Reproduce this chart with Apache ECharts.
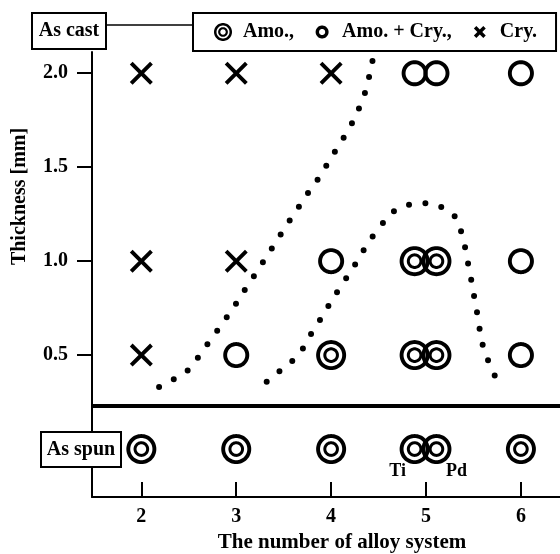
<!DOCTYPE html>
<html><head><meta charset="utf-8">
<script src="https://cdn.jsdelivr.net/npm/echarts@6/dist/echarts.min.js"></script>
<style>html,body{margin:0;padding:0;background:#fff}#c{width:560px;height:554px}</style>
</head><body><div id="c"></div>
<script>
// ---------------- data ----------------
const alloyCount   = [2, 3, 4, 5, 5, 6];
const alloyVariant = ['', '', '', 'Ti', 'Pd', ''];
const countTicks     = [2, 3, 4, 5, 6];
const thicknessTicks = [0.5, 1.0, 1.5, 2.0];
const castThickness  = [2.0, 1.0, 0.5];
const cast20 = ['Cry', 'Cry', 'Cry', 'AmoCry', 'AmoCry', 'AmoCry'];
const cast10 = ['Cry', 'Cry', 'AmoCry', 'Amo', 'Amo', 'AmoCry'];
const cast05 = ['Cry', 'AmoCry', 'Amo', 'Amo', 'Amo', 'AmoCry'];
const asSpun = ['Amo', 'Amo', 'Amo', 'Amo', 'Amo', 'Amo'];
const legendNames = ['Amo.', 'Amo. + Cry.', 'Cry.'];
// boundary between crystalline and mixed region (dotted, left)
const boundaryCry = [[2.187,0.331],[2.355,0.376],[2.513,0.429],[2.629,0.512],[2.759,0.601],[2.875,0.683],
  [2.987,0.766],[3.100,0.855],[3.209,0.938],[3.314,1.020],[3.419,1.103],[3.525,1.187],[3.638,1.272],
  [3.749,1.357],[3.855,1.432],[3.967,1.522],[4.076,1.613],[4.181,1.698],[4.262,1.778],[4.333,1.863],
  [4.386,1.947],[4.420,2.035],[4.462,2.110]];
// boundary of fully amorphous region (dotted, right)
const boundaryAmo = [[3.321,0.358],[3.490,0.429],[3.654,0.500],[3.760,0.589],[3.865,0.672],[3.971,0.761],
  [4.076,0.846],[4.181,0.926],[4.287,1.010],[4.392,1.098],[4.508,1.178],[4.656,1.263],[4.814,1.299],
  [4.979,1.308],[5.160,1.288],[5.311,1.233],[5.376,1.148],[5.416,1.063],[5.446,0.980],[5.477,0.899],
  [5.508,0.810],[5.537,0.729],[5.562,0.648],[5.593,0.562],[5.650,0.477],[5.725,0.390]];

// ---------------- layout / style constants ----------------
const SPUN_ROW = 0;          // y position of the "As spun" row
const SEPARATOR = 0.229;     // thick line between as-cast and as-spun
const PAIR_DX = {'Ti': -0.12, 'Pd': 0.11, '': 0};
const FONT = '"Liberation Serif", "Times New Roman", serif';

function circ(cx, cy, r, cw) {
  const n = 64; let s = '';
  for (let k = 0; k < n; k++) {
    const a = (cw ? 1 : -1) * 2 * Math.PI * k / n;
    s += (k ? 'L' : 'M') + (cx + r * Math.sin(a)).toFixed(2) + ' ' + (cy - r * Math.cos(a)).toFixed(2);
  }
  return s + 'Z';
}
function xPoly(a, b, d) {
  const m = (a + b) / 2;
  const p = [[a,a+d],[a+d,a],[m,m-d],[b-d,a],[b,a+d],[m+d,m],[b,b-d],[b-d,b],[m,m+d],[a+d,b],[a,b-d],[m-d,m]];
  return p.map((q, i) => (i ? 'L' : 'M') + q[0].toFixed(2) + ' ' + q[1].toFixed(2)).join('') + 'Z';
}
const SYM_AMO    = 'path://' + circ(50,50,50,1) + circ(50,50,37,0) + circ(50,50,26,1) + circ(50,50,16,0);
const SYM_AMOCRY = 'path://' + circ(50,50,50,1) + circ(50,50,35,0);
const SYM_CRY    = 'path://' + xPoly(0,100,12);
const LEG_AMO    = 'path://' + circ(50,50,50,1) + circ(50,50,36,0) + circ(50,50,27,1) + circ(50,50,15,0);
const LEG_AMOCRY = 'path://M0 0M100 100' + circ(50,50,36,1) + circ(50,50,17,0);
const LEG_CRY    = 'path://M0 0M100 100' + xPoly(17,83,13.7);

// ---------------- build points ----------------
const rows = [[castThickness[0], cast20], [castThickness[1], cast10], [castThickness[2], cast05], [SPUN_ROW, asSpun]];
const pts = {Amo: [], AmoCry: [], Cry: []};
rows.forEach(([y, st]) => {
  st.forEach((s, i) => {
    const x = alloyCount[i] + PAIR_DX[alloyVariant[i]];
    const item = {value: [x, y]};
    if (y === SPUN_ROW && alloyVariant[i]) {
      item.label = {show: true, formatter: alloyVariant[i], position: 'bottom',
        offset: [alloyVariant[i] === 'Ti' ? -17 : 20, -7],
        fontFamily: FONT, fontWeight: 'bold', fontSize: 18, color: '#000', opacity: 1};
    }
    pts[s].push(item);
  });
});

const chart = echarts.init(document.getElementById('c'), null, {renderer: 'canvas'});
const axisFont = {fontFamily: FONT, fontWeight: 'bold', fontSize: 20, color: '#000'};
const dotted = {color: '#000', width: 6, type: [0, 16.5], cap: 'round', opacity: 1};
const solidBlack = {color: '#000', opacity: 1};

chart.setOption({
  animation: false,
  backgroundColor: '#fff',
  grid: {left: 92, right: 0, top: 52, bottom: 57, containLabel: false, outerBoundsMode: 'none'},
  legend: {
    left: 193, top: 13, orient: 'horizontal',
    padding: [9, 19, 9, 21],
    itemWidth: 30, itemHeight: 18, itemGap: 19,
    backgroundColor: '#fff', borderColor: '#000', borderWidth: 2,
    selectedMode: false,
    data: [{name: legendNames[0], icon: LEG_AMO}, {name: legendNames[1], icon: LEG_AMOCRY}, {name: legendNames[2], icon: LEG_CRY}],
    formatter: n => n === legendNames[2] ? n : n + ',',
    textStyle: {fontFamily: FONT, fontWeight: 'bold', fontSize: 20, color: '#000'}
  },
  xAxis: {
    type: 'value', min: 1.48, max: 6.412,
    axisLine: {show: true, onZero: false, lineStyle: {color: '#000', width: 2}},
    axisTick: {show: true, inside: true, length: 15, customValues: countTicks, lineStyle: {color: '#000', width: 2}},
    axisLabel: {customValues: countTicks, margin: 10, ...axisFont},
    splitLine: {show: false},
    name: 'The number of alloy system', nameLocation: 'middle', nameGap: 33,
    nameTextStyle: {fontFamily: FONT, fontWeight: 'bold', fontSize: 21, color: '#000', padding: [0, 0, 0, 32]}
  },
  yAxis: {
    type: 'value', min: -0.255, max: 2.113,
    axisLine: {show: true, onZero: false, lineStyle: {color: '#000', width: 2}},
    axisTick: {show: true, inside: false, length: 15, customValues: thicknessTicks, lineStyle: {color: '#000', width: 2}},
    axisLabel: {customValues: thicknessTicks, margin: 24, formatter: v => v.toFixed(1), ...axisFont},
    splitLine: {show: false},
    name: 'Thickness [mm]', nameLocation: 'middle', nameGap: 62,
    nameTextStyle: {fontFamily: FONT, fontWeight: 'bold', fontSize: 20, color: '#000', padding: [0, 0, 0, 156]}
  },
  series: [
    {type: 'line', data: boundaryCry, smooth: 0.4, showSymbol: false, symbol: 'none', lineStyle: dotted, z: 2, silent: true, clip: true},
    {type: 'line', data: boundaryAmo, smooth: 0.4, showSymbol: false, symbol: 'none', lineStyle: dotted, z: 2, silent: true, clip: true},
    {type: 'scatter', name: legendNames[0], symbol: SYM_AMO, symbolSize: 30, itemStyle: solidBlack, emphasis: {disabled: true}, data: pts.Amo, z: 5},
    {type: 'scatter', name: legendNames[1], symbol: SYM_AMOCRY, symbolSize: 26, itemStyle: solidBlack, emphasis: {disabled: true}, data: pts.AmoCry, z: 5},
    {type: 'scatter', name: legendNames[2], symbol: SYM_CRY, symbolSize: 23, itemStyle: solidBlack, emphasis: {disabled: true}, data: pts.Cry, z: 5,
      markLine: {silent: true, symbol: ['none', 'none'], label: {show: false},
        lineStyle: {color: '#000', width: 4, type: 'solid', opacity: 1}, data: [{yAxis: SEPARATOR}]}}
  ],
  graphic: [
    {type: 'line', z: 100, shape: {x1: 106, y1: 25, x2: 193, y2: 25}, style: {stroke: '#000', lineWidth: 1.5}},
    {type: 'rect', z: 100, shape: {x: 32, y: 13, width: 74, height: 36}, style: {fill: '#fff', stroke: '#000', lineWidth: 2}},
    {type: 'text', z: 101, x: 69, y: 31, style: {text: 'As cast', font: 'bold 20px ' + FONT, fill: '#000', align: 'center', verticalAlign: 'middle'}},
    {type: 'rect', z: 100, shape: {x: 41, y: 432, width: 80, height: 35}, style: {fill: '#fff', stroke: '#000', lineWidth: 2}},
    {type: 'text', z: 101, x: 81, y: 450, style: {text: 'As spun', font: 'bold 20px ' + FONT, fill: '#000', align: 'center', verticalAlign: 'middle'}}
  ]
});
</script></body></html>
